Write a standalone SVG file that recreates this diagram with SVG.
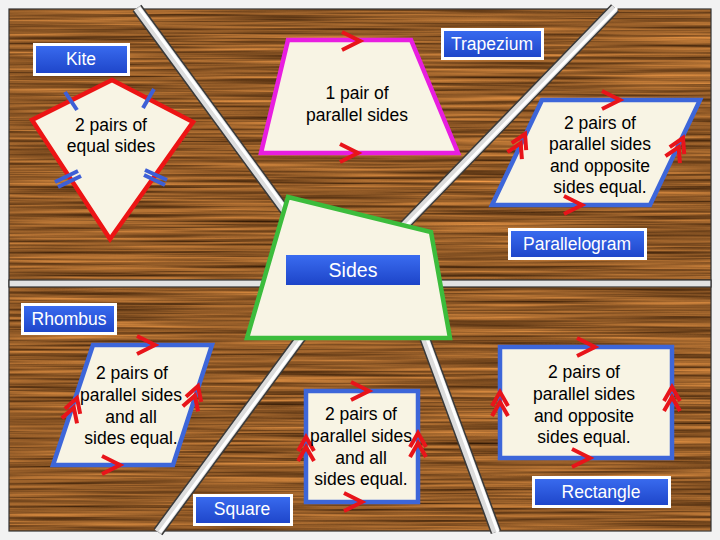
<svg xmlns="http://www.w3.org/2000/svg" width="720" height="540" viewBox="0 0 720 540">
<style>
  .lbl rect{fill:url(#blueg);stroke:#fff;stroke-width:3}
  .lbl text{fill:#fff;font-family:"Liberation Sans",Arial,sans-serif;font-size:17.5px;text-anchor:middle}
  .txt{fill:#000;font-family:"Liberation Sans",Arial,sans-serif;font-size:17.5px;text-anchor:middle}
  .shape{fill:#f8f4e4;stroke-width:4.5;stroke-linejoin:miter}
  .blue{stroke:#3d66d9}
  .chev{fill:none;stroke:#e8141a;stroke-width:4;stroke-linecap:butt;stroke-linejoin:miter}
  .tick{stroke:#3d5fd6;stroke-width:4;stroke-linecap:butt}
  .pipeO{fill:none;stroke:#3a3a3a;stroke-width:11}
  .pipeI{fill:none;stroke:#dcdcdc;stroke-width:8}
  .pipeH{fill:none;stroke:#ffffff;stroke-width:3}
</style>
<defs>
  <filter id="wood" filterUnits="userSpaceOnUse" x="0" y="0" width="720" height="540" color-interpolation-filters="sRGB">
    <feTurbulence type="fractalNoise" baseFrequency="0.005 0.35" numOctaves="3" seed="7"/>
    <feColorMatrix type="matrix" values="0.85 0 0 0 0.14  0.58 0 0 0 0.06  0.3 0 0 0 0.0  0 0 0 0 1"/>
  </filter>
  <linearGradient id="blueg" x1="0" y1="0" x2="0" y2="1">
    <stop offset="0" stop-color="#3a6cf0"/>
    <stop offset="1" stop-color="#1d44c8"/>
  </linearGradient>
  <polyline id="c1" class="chev" points="-18,-9 0,0 -18,9"/>
  <g id="c2">
    <polyline class="chev" points="-14,-8 0,0 -14,8"/>
    <polyline class="chev" points="-24,-8 -10,0 -24,8"/>
  </g>
</defs>

<!-- background wood -->
<rect x="0" y="0" width="720" height="540" fill="#8a5a2c"/>
<rect x="0" y="0" width="720" height="540" filter="url(#wood)"/>

<!-- frame -->
<g id="frame">
  <rect x="0" y="0" width="720" height="9" fill="#f2f2f2"/>
  <rect x="0" y="531" width="720" height="9" fill="#f2f2f2"/>
  <rect x="0" y="0" width="9" height="540" fill="#f2f2f2"/>
  <rect x="711" y="0" width="9" height="540" fill="#f2f2f2"/>
  <rect x="9" y="9" width="702" height="522" fill="none" stroke="#333" stroke-width="1.2"/>
</g>

<!-- connectors (pipes) -->
<g id="connectors">
  <path class="pipeO" d="M137,8 L292,220 M615,8 L398,232 M302,336 L158,532 M424,336 L496,532"/>
  <path class="pipeI" d="M137,8 L292,220 M615,8 L398,232 M302,336 L158,532 M424,336 L496,532"/>
  <path class="pipeH" d="M139,8 L294,220 M617,8 L400,232 M304,336 L160,532 M426,336 L498,532"/>
  <rect x="9" y="280" width="702" height="7" fill="#e2e2e2" stroke="#333" stroke-width="1.2"/>
</g>

<!-- Sides -->
<g id="sides">
  <polygon class="shape" stroke="#3cbc3c" points="288,197 431,232 450,338 247,338"/>
  <rect x="286" y="255" width="134" height="30" fill="url(#blueg)"/>
  <text x="353" y="277" fill="#fff" font-family="Liberation Sans, Arial, sans-serif" font-size="19.5" text-anchor="middle">Sides</text>
</g>

<!-- Kite -->
<g id="kite">
  <polygon class="shape" stroke="#ec1414" stroke-width="5" points="112,80 32,120 110,239 193,122"/>
  <line class="tick" x1="65" y1="92" x2="77" y2="110"/>
  <line class="tick" x1="154" y1="89" x2="143" y2="108"/>
  <line class="tick" x1="55" y1="182" x2="78" y2="171"/>
  <line class="tick" x1="58" y1="187" x2="81" y2="176"/>
  <line class="tick" x1="145" y1="170" x2="167" y2="180"/>
  <line class="tick" x1="144" y1="175" x2="165" y2="185"/>
  <text class="txt" x="111" y="131">2 pairs of</text>
  <text class="txt" x="111" y="152">equal sides</text>
</g>
<g id="kite-label" class="lbl">
  <rect x="34.5" y="44.5" width="94" height="30"/>
  <text x="81" y="65">Kite</text>
</g>

<!-- Trapezium -->
<g id="trapezium">
  <polygon class="shape" stroke="#e81ee0" points="288,40 411,40 458,153 261,153"/>
  <use href="#c1" transform="translate(360,41)"/>
  <use href="#c1" transform="translate(358,153)"/>
  <text class="txt" x="357" y="99">1 pair of</text>
  <text class="txt" x="357" y="121">parallel sides</text>
</g>
<g id="trapezium-label" class="lbl">
  <rect x="442.5" y="29.5" width="100" height="29"/>
  <text x="492" y="50">Trapezium</text>
</g>

<!-- Parallelogram -->
<g id="parallelogram">
  <polygon class="shape blue" points="542,100 700,100 650,205 492,205"/>
  <use href="#c1" transform="translate(620,100)"/>
  <use href="#c1" transform="translate(582,205)"/>
  <use href="#c2" transform="translate(525,134) rotate(-64.5)"/>
  <use href="#c2" transform="translate(683,138) rotate(-64.5)"/>
  <text class="txt" x="600" y="129">2 pairs of</text>
  <text class="txt" x="600" y="150">parallel sides</text>
  <text class="txt" x="600" y="172">and opposite</text>
  <text class="txt" x="600" y="193">sides equal.</text>
</g>
<g id="parallelogram-label" class="lbl">
  <rect x="509.5" y="229.5" width="136" height="29"/>
  <text x="577" y="250">Parallelogram</text>
</g>

<!-- Rhombus -->
<g id="rhombus">
  <polygon class="shape blue" points="93,345 212,345 173,465 53,465"/>
  <use href="#c1" transform="translate(155,345)"/>
  <use href="#c1" transform="translate(120,465)"/>
  <use href="#c2" transform="translate(77,398) rotate(-71.6)"/>
  <use href="#c2" transform="translate(198,386) rotate(-71.6)"/>
  <text class="txt" x="132" y="379">2 pairs of</text>
  <text class="txt" x="131" y="401">parallel sides</text>
  <text class="txt" x="131" y="423">and all</text>
  <text class="txt" x="131" y="444">sides equal.</text>
</g>
<g id="rhombus-label" class="lbl">
  <rect x="22.5" y="304.5" width="93" height="29"/>
  <text x="69" y="325">Rhombus</text>
</g>

<!-- Square -->
<g id="square">
  <rect class="shape blue" x="306" y="391" width="112" height="111"/>
  <use href="#c1" transform="translate(369,391)"/>
  <use href="#c1" transform="translate(362,502)"/>
  <use href="#c2" transform="translate(306,437) rotate(-90)"/>
  <use href="#c2" transform="translate(418,433) rotate(-90)"/>
  <text class="txt" x="361" y="420">2 pairs of</text>
  <text class="txt" x="361" y="442">parallel sides</text>
  <text class="txt" x="361" y="464">and all</text>
  <text class="txt" x="361" y="485">sides equal.</text>
</g>
<g id="square-label" class="lbl">
  <rect x="194.5" y="495.5" width="97" height="29"/>
  <text x="242" y="515">Square</text>
</g>

<!-- Rectangle -->
<g id="rectangle">
  <rect class="shape blue" x="500" y="347" width="172" height="111"/>
  <use href="#c1" transform="translate(595,347)"/>
  <use href="#c1" transform="translate(590,458)"/>
  <use href="#c2" transform="translate(500,392) rotate(-90)"/>
  <use href="#c2" transform="translate(672,387) rotate(-90)"/>
  <text class="txt" x="584" y="378">2 pairs of</text>
  <text class="txt" x="584" y="400">parallel sides</text>
  <text class="txt" x="584" y="422">and opposite</text>
  <text class="txt" x="584" y="443">sides equal.</text>
</g>
<g id="rectangle-label" class="lbl">
  <rect x="533.5" y="477.5" width="136" height="29"/>
  <text x="601" y="498">Rectangle</text>
</g>
</svg>
